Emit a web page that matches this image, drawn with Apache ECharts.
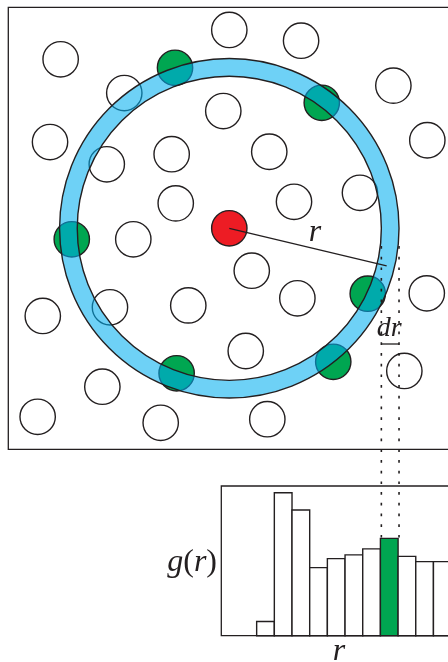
<!DOCTYPE html>
<html>
<head>
<meta charset="utf-8">
<script src="https://cdn.jsdelivr.net/npm/echarts@6/dist/echarts.min.js"></script>
<style>
  html, body { margin: 0; padding: 0; background: #fff; }
  #chart { width: 448px; height: 662px; }
</style>
</head>
<body>
<div id="chart"></div>
<script>
// ---- Particle configuration (box is 25 x 25 units, y upward) ----
const refParticle = [12.5, 12.5];          // red reference particle
const particleRadius = 1.0;

const plainX = [2.96, 12.5, 16.56, 21.78, 6.56, 12.16, 2.36, 23.70, 5.57, 9.24, 14.76, 9.47, 16.16, 19.89,
                7.07, 13.77, 16.35, 10.18, 5.75, 1.95, 23.67, 13.43, 22.40, 5.32, 1.66, 8.62, 14.65];
const plainY = [22.06, 23.72, 23.11, 20.57, 20.15, 19.13, 17.38, 17.48, 16.12, 16.69, 16.83, 13.91, 14.00, 14.51,
                11.88, 10.10, 8.54, 8.14, 8.03, 7.54, 8.82, 5.56, 4.43, 3.54, 1.84, 1.50, 1.70];

// particles that fall inside the shell r .. r+dr
const shellX = [9.43, 17.73, 3.59, 20.33, 9.52, 18.38];
const shellY = [21.58, 19.60, 11.88, 8.80, 4.30, 4.95];

// shell radii and the radius marker
const shellInner = 8.6;
const shellOuter = 9.6;
const rayEnd = [21.40, 10.38];
const guideTopY = 11.5;                    // where the dotted guides leave the shell

// ---- Histogram g(r) ----
const binStart = [2, 3, 4, 5, 6, 7, 8, 9, 10, 11, 12];
const gValues  = [0.19, 1.91, 1.68, 0.91, 1.03, 1.08, 1.16, 1.30, 1.06, 0.99, 0.99];
const shellBin = 9;

const INK = '#231f20';
const GREEN = '#00a651';
const RED = '#ed1c24';
const SHELL = 'rgba(0,174,239,0.57)';
const SERIF = '"Liberation Serif", "DejaVu Serif", serif';

const chart = echarts.init(document.getElementById('chart'), null, { renderer: 'canvas' });

function particleRenderer(fill) {
  return function (params, api) {
    const c = api.coord([api.value(0), api.value(1)]);
    const r = api.size([particleRadius, 0])[0];
    return {
      type: 'circle',
      shape: { cx: c[0], cy: c[1], r: r },
      style: { fill: fill, stroke: INK, lineWidth: 1.4 }
    };
  };
}

const hiddenAxis = { show: false };

chart.setOption({
  animation: false,
  grid: [
    { left: 8.3, top: 7.3, width: 442, height: 442, outerBoundsMode: 'none', containLabel: false,
      show: true, borderColor: INK, borderWidth: 1.3, backgroundColor: 'transparent' },
    { left: 221.3, top: 486, width: 247.5, height: 149.7, outerBoundsMode: 'none', containLabel: false,
      show: true, borderColor: INK, borderWidth: 1.3, backgroundColor: 'transparent' }
  ],
  xAxis: [
    Object.assign({ type: 'value', min: 0, max: 25, gridIndex: 0 }, hiddenAxis),
    Object.assign({ type: 'value', min: 0, max: 14, gridIndex: 1 }, hiddenAxis)
  ],
  yAxis: [
    Object.assign({ type: 'value', min: 0, max: 25, gridIndex: 0 }, hiddenAxis),
    Object.assign({ type: 'value', min: 0, max: 2, gridIndex: 1 }, hiddenAxis)
  ],
  series: [
    {
      type: 'custom', name: 'particles', xAxisIndex: 0, yAxisIndex: 0, z: 2,
      data: plainX.map((x, i) => [x, plainY[i]]),
      renderItem: particleRenderer('#ffffff')
    },
    {
      type: 'custom', name: 'in shell', xAxisIndex: 0, yAxisIndex: 0, z: 3,
      data: shellX.map((x, i) => [x, shellY[i]]),
      renderItem: particleRenderer(GREEN)
    },
    {
      type: 'custom', name: 'shell', xAxisIndex: 0, yAxisIndex: 0, z: 4,
      data: [[refParticle[0], refParticle[1], shellInner, shellOuter]],
      renderItem: function (params, api) {
        const c = api.coord([api.value(0), api.value(1)]);
        const r0 = api.size([api.value(2), 0])[0];
        const r1 = api.size([api.value(3), 0])[0];
        return {
          type: 'group',
          children: [
            { type: 'ring', shape: { cx: c[0], cy: c[1], r: r1, r0: r0 }, style: { fill: SHELL } },
            { type: 'circle', shape: { cx: c[0], cy: c[1], r: r0 }, style: { fill: 'none', stroke: INK, lineWidth: 1.4 } },
            { type: 'circle', shape: { cx: c[0], cy: c[1], r: r1 }, style: { fill: 'none', stroke: INK, lineWidth: 1.4 } }
          ]
        };
      }
    },
    {
      type: 'custom', name: 'reference', xAxisIndex: 0, yAxisIndex: 0, z: 5,
      data: [refParticle],
      renderItem: particleRenderer(RED)
    },
    {
      type: 'line', name: 'radius', xAxisIndex: 0, yAxisIndex: 0, z: 6,
      data: [refParticle, rayEnd],
      symbol: 'none', clip: false,
      lineStyle: { color: INK, width: 1.3 }
    },
    {
      type: 'custom', name: 'g(r)', xAxisIndex: 1, yAxisIndex: 1, z: 3,
      data: binStart.map((b, i) => [b, gValues[i]]),
      renderItem: function (params, api) {
        const b = api.value(0);
        const top = api.coord([b, api.value(1)]);
        const bottom = api.coord([b + 1, 0]);
        return {
          type: 'rect',
          shape: { x: top[0], y: top[1], width: bottom[0] - top[0], height: bottom[1] - top[1] },
          style: { fill: b === shellBin ? GREEN : '#ffffff', stroke: INK, lineWidth: 1.4 }
        };
      }
    }
  ]
});

// Dotted guides from the shell edges down to the matching histogram bin
const shellValue = gValues[binStart.indexOf(shellBin)];
const barTop = chart.convertToPixel({ gridIndex: 1 }, [shellBin, shellValue])[1];
const innerEdge = chart.convertToPixel({ gridIndex: 0 }, [refParticle[0] + shellInner, guideTopY]);
const outerEdge = chart.convertToPixel({ gridIndex: 0 }, [refParticle[0] + shellOuter, guideTopY]);
const rayA = chart.convertToPixel({ gridIndex: 0 }, refParticle);
const rayB = chart.convertToPixel({ gridIndex: 0 }, rayEnd);

const dotted = { stroke: INK, lineWidth: 1.6, lineDash: [2.7, 8] };
const italic = { fontFamily: SERIF, fontStyle: 'italic', fontSize: 32, fill: INK };

chart.setOption({
  graphic: [
    { type: 'line', z: 10, shape: { x1: innerEdge[0], y1: innerEdge[1], x2: innerEdge[0], y2: barTop }, style: dotted },
    { type: 'line', z: 10, shape: { x1: outerEdge[0], y1: outerEdge[1], x2: outerEdge[0], y2: barTop }, style: dotted },
    { type: 'line', z: 10, shape: { x1: innerEdge[0], y1: 344, x2: outerEdge[0], y2: 344 }, style: { stroke: INK, lineWidth: 1.3 } },
    {
      type: 'text', z: 10,
      x: (rayA[0] + rayB[0]) / 2 + 7, y: (rayA[1] + rayB[1]) / 2 - 14,
      style: Object.assign({ text: 'r', align: 'center', verticalAlign: 'middle' }, italic)
    },
    {
      type: 'text', z: 10,
      x: (innerEdge[0] + outerEdge[0]) / 2 - 1, y: 329,
      style: Object.assign({ text: 'dr', align: 'center', verticalAlign: 'middle' }, italic, { fontSize: 28 })
    },
    {
      type: 'text', z: 10, x: 217, y: 563,
      style: {
        text: '{i|g}{n|(}{i|r}{n|)}', align: 'right', verticalAlign: 'middle',
        rich: {
          i: { fontFamily: SERIF, fontStyle: 'italic', fontSize: 32, fill: INK },
          n: { fontFamily: SERIF, fontSize: 32, fill: INK }
        }
      }
    },
    {
      type: 'text', z: 10, x: 339, y: 652,
      style: Object.assign({ text: 'r', align: 'center', verticalAlign: 'middle' }, italic)
    }
  ]
});
</script>
</body>
</html>
